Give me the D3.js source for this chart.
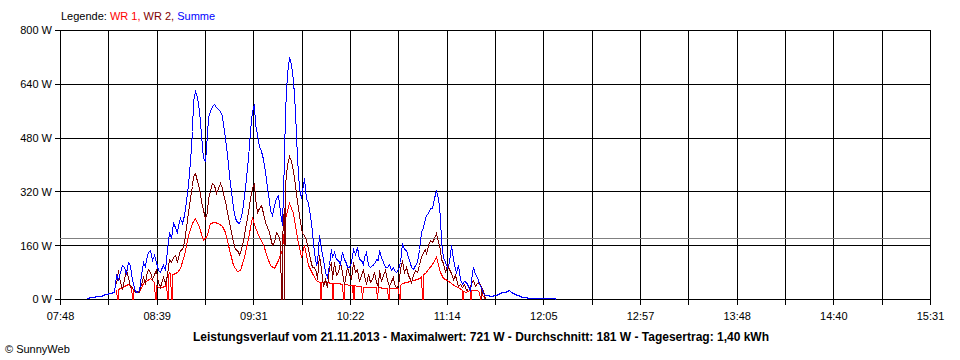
<!DOCTYPE html>
<html>
<head>
<meta charset="utf-8">
<script src="https://cdn.jsdelivr.net/npm/d3@7"></script>
<style>
  html, body { margin: 0; padding: 0; background: #fff; }
  svg { display: block; font-family: "Liberation Sans", Arial, sans-serif; }
</style>
</head>
<body>
<svg id="chart" width="960" height="360"></svg>
<script>
// ---------------- DATA ----------------
const axisStart = "07:48";
const axisEnd = "15:31";
const xTickLabels = ["07:48","08:39","09:31","10:22","11:14","12:05","12:57","13:48","14:40","15:31"];
const yTicks = [0, 160, 320, 480, 640, 800];
const averageW = 181;
const titleText = "Leistungsverlauf vom 21.11.2013 - Maximalwert: 721 W - Durchschnitt: 181 W - Tagesertrag: 1,40 kWh";
const seriesNames = ["WR 1", "WR 2", "Summe"];

// readings at even minutes
const times = [
  "08:02","08:04","08:06","08:08","08:10","08:12","08:14","08:16","08:18","08:20",
  "08:22","08:24","08:26","08:28","08:30","08:32","08:34","08:36","08:38","08:40",
  "08:42","08:44","08:46","08:48","08:50","08:52","08:54","08:56","08:58",
  "09:00","09:02","09:04","09:06","09:08","09:10","09:12","09:14","09:16","09:18",
  "09:20","09:22","09:24","09:26","09:28","09:30","09:32","09:34","09:36","09:38",
  "09:40","09:42","09:44","09:46","09:48","09:50","09:52","09:54","09:56","09:58",
  "10:00","10:02","10:04","10:06","10:08","10:10","10:12","10:14","10:16","10:18",
  "10:20","10:22","10:24","10:26","10:28","10:30","10:32","10:34","10:36","10:38",
  "10:40","10:42","10:44","10:46","10:48","10:50","10:52","10:54","10:56","10:58",
  "11:00","11:02","11:04","11:06","11:08","11:10","11:12","11:14","11:16","11:18",
  "11:20","11:22","11:24","11:26","11:28","11:30","11:32","11:34","11:36","11:38",
  "11:40","11:42","11:44","11:46","11:48","11:50","11:52","11:54","11:56","11:58",
  "12:00","12:02","12:04","12:06","12:08","12:10","12:12"
];

const summe = [
  2,5,7,9,10,14,18,20,
  70,80,95,110,75,25,27,110,120,145,130,85,
  90,86,200,225,195,240,250,340,500,620,560,420,
  490,560,580,565,545,480,370,270,228,235,310,420,
  560,520,455,415,330,265,280,310,220,560,721,650,
  420,300,360,285,200,100,190,120,65,150,140,116,
  140,107,95,150,155,116,125,100,100,120,146,110,
  95,86,86,90,167,146,107,90,110,200,240,256,
  270,325,244,125,95,160,90,100,45,50,25,95,
  65,35,13,12,10,12,18,20,25,20,15,12,
  7,5,3,3,3,3,3,3,3,0
];

const wr1 = [
  null,null,null,null,null,null,null,null,
  27,33,40,45,40,20,22,48,55,62,50,36,
  36,40,80,75,80,92,130,190,225,240,215,175,
  190,225,228,226,218,200,150,100,82,85,125,180,
  245,215,185,165,125,100,92,115,150,240,285,256,
  180,125,160,100,78,57,52,51,51,48,48,47,
  45,44,42,42,40,38,36,36,36,35,35,34,
  33,33,33,33,48,52,55,57,60,65,78,90,
  103,125,80,62,57,48,40,36,25,22,27,27,
  27,18,0,null,null,null,null,null,null,null,null,null,
  null,null,null,null,null,null,null,null,null,null
];

const wr2 = [
  null,null,null,null,null,null,null,null,
  45,50,60,65,40,20,20,66,72,80,75,50,
  48,48,118,125,110,146,170,260,335,375,330,265,
  260,320,338,330,330,290,230,170,145,140,190,260,
  330,300,270,255,215,184,170,190,150,340,425,380,
  290,210,190,150,95,80,130,40,36,110,110,80,
  80,77,75,110,90,70,70,75,60,50,85,70,
  57,55,45,40,115,95,60,70,80,125,150,160,
  170,195,150,107,100,77,70,40,36,27,40,57,
  48,36,0,null,null,null,null,null,null,null,null,null,
  null,null,null,null,null,null,null,null,null,null
];

// readings at odd minutes (show the rapid fluctuation of Summe and WR 2)
const timesOdd = [
  "08:03","08:05","08:07","08:09","08:11","08:13","08:15","08:17","08:19","08:21",
  "08:23","08:25","08:27","08:29","08:31","08:33","08:35","08:37","08:39","08:41",
  "08:43","08:45","08:47","08:49","08:51","08:53","08:55","08:57","08:59",
  "09:01","09:03","09:05","09:07","09:09","09:11","09:13","09:15","09:17","09:19",
  "09:21","09:23","09:25","09:27","09:29","09:31","09:33","09:35","09:37","09:39",
  "09:41","09:43","09:45","09:47","09:49","09:51","09:53","09:55","09:57","09:59",
  "10:01","10:03","10:05","10:07","10:09","10:11","10:13","10:15","10:17","10:19",
  "10:21","10:23","10:25","10:27","10:29","10:31","10:33","10:35","10:37","10:39",
  "10:41","10:43","10:45","10:47","10:49","10:51","10:53","10:55","10:57","10:59",
  "11:01","11:03","11:05","11:07","11:09","11:11","11:13","11:15","11:17","11:19",
  "11:21","11:23","11:25","11:27","11:29","11:31","11:33","11:35","11:37","11:39",
  "11:41","11:43","11:45","11:47","11:49","11:51","11:53","11:55","11:57","11:59",
  "12:01","12:03","12:05","12:07","12:09","12:11"
];

const summeOdd = [
  3,6,8,9,12,16,19,22,
  60,100,75,100,45,20,70,95,140,115,110,80,
  100,150,180,215,220,225,290,410,590,600,490,410,
  540,575,570,560,520,430,320,240,225,260,360,500,
  580,490,440,380,290,250,300,260,420,670,700,560,
  330,320,300,250,140,110,150,80,100,125,120,105,
  120,95,110,135,120,105,140,95,105,115,125,95,
  105,95,80,110,150,125,95,100,150,215,250,270,
  300,300,170,110,110,120,80,60,55,40,80,75,
  45,18,12,10,12,15,20,22,28,18,13,10,
  6,4,3,3,3,3,3,3,3
];

const wr2Odd = [
  null,null,null,null,null,null,null,null,
  85,30,85,35,30,25,45,45,90,60,85,35,
  65,70,110,130,125,150,215,300,365,350,290,240,
  300,345,315,345,315,260,200,150,135,160,225,300,
  345,260,280,230,200,160,200,170,270,400,410,340,
  250,195,175,120,95,60,90,60,95,60,70,110,
  45,95,60,80,55,90,45,50,80,40,55,85,
  40,65,35,90,80,70,50,85,100,140,135,175,
  180,170,120,80,90,60,60,45,45,30,55,40,
  50,25,null,null,null,null,null,null,null,null,null,null,
  null,null,null,null,null,null,null,null,null
];

// short drop-outs to 0 W
const wr1Dropouts = ["08:18:20","08:26:20","08:38:35","08:44:55","08:47:05","10:06:25","10:12:50",
  "10:18:35","10:23:55","10:28:40","10:36:40","10:42:35","10:48:25","11:00:40","11:22:00","11:26:10","11:31:30"];
const wr2Dropouts = ["09:45:35","09:47:00","11:32:00"];

const colors = { wr1: "#ff0000", wr2: "#800000", summe: "#0000ff", avg: "#808080" };

// ---------------- CHART ----------------
(function () {
const parseT = s => { const p = s.split(":").map(Number); return p[0] * 60 + p[1] + (p[2] || 0) / 60; };
const svg = d3.select("#chart");
const pLeft = 60, pRight = 930, pTop = 30, pBottom = 299;
const t0 = parseT(axisStart), t1 = parseT(axisEnd);
const x = d3.scaleLinear().domain([t0, t1]).range([pLeft, pRight]);
const y = d3.scaleLinear().domain([0, 800]).range([pBottom, pTop]);
const px = v => Math.round(v) + 0.5;

svg.append("rect").attr("width", 960).attr("height", 360).attr("fill", "#fff");

// vertical grid (19 lines, labels on every second)
const nGrid = (xTickLabels.length - 1) * 2;
const gridT = d3.range(nGrid + 1).map(i => t0 + i * (t1 - t0) / nGrid);
const xAxis = d3.axisBottom(x).tickValues(gridT).tickSize(0).tickFormat((d, i) => i % 2 === 0 ? xTickLabels[i / 2] : "");
const gx = svg.append("g").attr("transform", `translate(0,${pBottom + 21})`).call(xAxis);
gx.select(".domain").remove();
gx.selectAll("text").attr("font-size", 11).attr("fill", "#000").attr("font-family", "Liberation Sans, Arial, sans-serif").attr("dy", 0).attr("y", 0);

svg.append("g").selectAll("line").data(gridT).join("line")
  .attr("x1", d => px(x(d))).attr("x2", d => px(x(d)))
  .attr("y1", pTop).attr("y2", pBottom + 6)
  .attr("stroke", "#000").attr("stroke-width", 1).attr("shape-rendering", "crispEdges");

// horizontal grid
svg.append("g").selectAll("line").data(yTicks).join("line")
  .attr("x1", pLeft - 5).attr("x2", pRight + 1)
  .attr("y1", d => px(y(d))).attr("y2", d => px(y(d)))
  .attr("stroke", "#000").attr("stroke-width", 1).attr("shape-rendering", "crispEdges");

const yAxis = d3.axisLeft(y).tickValues(yTicks).tickSize(0).tickPadding(0).tickFormat(d => d + " W");
const gy = svg.append("g").attr("transform", `translate(${pLeft - 8},0)`).call(yAxis);
gy.select(".domain").remove();
gy.selectAll("text").attr("font-size", 11).attr("fill", "#000").attr("font-family", "Liberation Sans, Arial, sans-serif").attr("dy", "0.35em");

// average line
svg.append("line")
  .attr("x1", pLeft).attr("x2", pRight)
  .attr("y1", px(y(averageW))).attr("y2", px(y(averageW)))
  .attr("stroke", colors.avg).attr("stroke-width", 1).attr("shape-rendering", "crispEdges");

// series
function buildPoints(sets, drops) {
  let pts = [];
  sets.forEach(([ts, vals]) => ts.forEach((t, i) => pts.push({ t: parseT(t), v: vals[i] })));
  pts.sort((p, q) => p.t - q.t);
  const valueAt = td => {
    for (let i = 0; i < pts.length - 1; i++) {
      const a = pts[i], b = pts[i + 1];
      if (a.t <= td && td <= b.t && a.v != null && b.v != null) return a.v + (b.v - a.v) * (td - a.t) / (b.t - a.t);
    }
    return null;
  };
  const extra = [];
  (drops || []).forEach(ds => {
    const td = parseT(ds);
    const a = valueAt(td - 0.3), b = valueAt(td + 0.6);
    if (a == null || b == null) return;
    extra.push({ t: td - 0.3, v: a }, { t: td, v: 0 }, { t: td + 0.3, v: 0 }, { t: td + 0.6, v: b });
  });
  return pts.concat(extra).sort((p, q) => p.t - q.t);
}
const line = d3.line()
  .defined(d => d.v != null)
  .x(d => px(x(d.t)))
  .y(d => px(y(d.v)))
  .curve(d3.curveLinear);

[
  [[[times, wr1]], wr1Dropouts, colors.wr1],
  [[[times, wr2], [timesOdd, wr2Odd]], wr2Dropouts, colors.wr2],
  [[[times, summe], [timesOdd, summeOdd]], [], colors.summe]
].forEach(([sets, drops, c]) => {
  svg.append("path").datum(buildPoints(sets, drops))
    .attr("d", line).attr("fill", "none").attr("stroke", c).attr("stroke-width", 1)
    .attr("shape-rendering", "crispEdges");
});

// legend
const leg = svg.append("text").attr("x", 61).attr("y", 20).attr("font-size", 11);
leg.append("tspan").attr("fill", "#000").text("Legende: ");
leg.append("tspan").attr("fill", colors.wr1).text(seriesNames[0] + ", ");
leg.append("tspan").attr("fill", colors.wr2).text(seriesNames[1] + ", ");
leg.append("tspan").attr("fill", colors.summe).text(seriesNames[2]);

// title
svg.append("text").attr("x", 481).attr("y", 341).attr("text-anchor", "middle")
  .attr("font-size", 12).attr("font-weight", "bold").attr("fill", "#000").text(titleText);

// copyright
svg.append("text").attr("x", 5).attr("y", 353).attr("font-size", 11).attr("fill", "#000").text("\u00A9 SunnyWeb");
})();
</script>
</body>
</html>
